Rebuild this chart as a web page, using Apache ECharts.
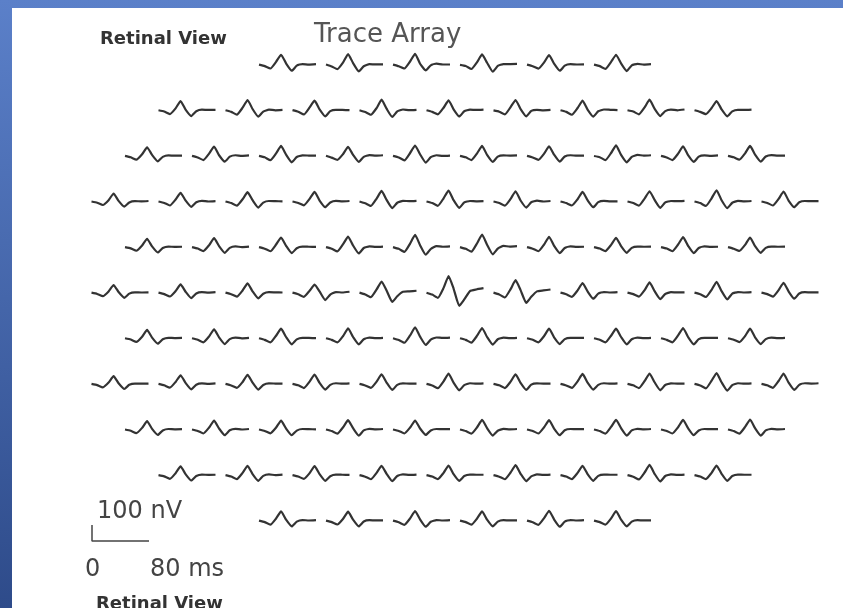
<!DOCTYPE html>
<html><head><meta charset="utf-8">
<script src="https://cdn.jsdelivr.net/npm/echarts@6/dist/echarts.min.js"></script>
<style>html,body{margin:0;padding:0;background:#fff}#c{width:843px;height:608px}</style>
</head><body><div id="c"></div>
<script>
// ---- data ----
const timesMs = [0, 8, 16, 24, 31, 38, 46, 53, 61, 70, 80];
const row1 = [
[2,-7,-22,20,64,10,-36,-4,6,2,5],[3,-9,-26,16,68,12,-40,-8,5,4,4],[2,-8,-22,22,70,8,-34,-2,8,3,3],
[1,-6,-25,18,66,14,-42,-6,6,6,7],[2,-8,-23,16,62,8,-36,-4,5,3,4],[2,-7,-24,20,64,10,-38,-2,7,2,5]];
const row2 = [
[2,-6,-22,14,60,6,-34,-4,6,4,5],[2,-8,-25,18,66,10,-38,-6,6,2,4],[3,-7,-24,20,62,8,-36,-3,5,4,3],
[2,-9,-26,16,68,12,-40,-5,7,3,5],[2,-8,-23,18,64,8,-37,-4,6,4,6],[1,-7,-24,22,66,10,-36,-2,5,2,4],
[2,-8,-26,16,62,6,-38,-4,7,5,3],[2,-6,-23,20,68,12,-34,-3,6,2,7],[2,-8,-22,16,60,8,-36,-5,5,4,6]];
const row3 = [
[2,-7,-22,12,56,8,-32,-4,5,3,4],[2,-8,-24,16,60,6,-34,-3,6,2,5],[2,-7,-25,18,64,10,-38,-5,5,4,3],
[3,-9,-23,14,58,8,-36,-4,7,3,6],[2,-8,-26,20,66,12,-40,-6,6,2,4],[2,-7,-24,18,64,8,-36,-3,5,4,5],
[2,-8,-23,16,62,10,-34,-2,6,3,4],[1,-6,-25,20,68,8,-38,-4,8,4,6],[2,-8,-24,16,62,6,-36,-3,5,2,5],
[2,-7,-22,18,64,10,-34,-2,7,3,4]];
const row4 = [
[2,-6,-20,10,52,6,-30,-4,4,3,5],[2,-7,-23,14,56,8,-32,-3,6,2,4],[2,-8,-24,16,60,10,-36,-5,5,4,3],
[2,-7,-22,18,62,8,-34,-4,6,3,5],[2,-9,-26,20,68,12,-40,-6,6,4,6],[2,-8,-25,22,70,10,-38,-4,5,3,4],
[2,-7,-24,18,66,8,-36,-3,7,2,5],[2,-8,-23,16,62,10,-34,-2,6,3,3],[2,-7,-24,20,66,12,-38,-4,5,4,6],
[2,-8,-26,22,72,10,-40,-6,6,3,5],[2,-7,-23,18,64,8,-34,-3,5,4,4]];
const row5 = [
[2,-6,-21,12,54,6,-32,-4,5,3,4],[2,-7,-23,14,58,8,-34,-3,6,2,5],[2,-8,-24,18,62,10,-36,-5,5,4,3],
[2,-8,-25,20,68,12,-38,-4,6,3,5],[2,-9,-28,24,78,14,-46,-10,8,4,6],[2,-9,-27,26,80,16,-44,-8,9,5,8],
[2,-8,-24,18,66,10,-36,-4,6,3,4],[2,-7,-23,16,60,8,-34,-3,5,4,5],[2,-7,-24,18,64,10,-36,-4,6,3,4],
[2,-8,-22,16,62,8,-34,-3,5,4,5]];
const row6 = [
[2,-6,-20,10,50,6,-30,-4,4,3,4],[2,-7,-22,12,54,8,-32,-3,5,2,5],[2,-8,-23,16,60,10,-34,-5,5,4,3],
[2,-8,-24,14,52,10,-44,-10,6,3,8],[2,-9,-26,22,72,16,-56,-20,8,10,14],[2,-10,-30,32,106,28,-80,-40,12,22,30],
[2,-9,-28,24,80,18,-62,-24,10,16,22],[2,-8,-24,16,62,10,-36,-4,6,3,5],[2,-7,-23,18,66,12,-38,-6,5,4,4],
[2,-8,-25,20,70,12,-40,-4,6,3,5],[2,-7,-23,18,64,10,-36,-3,5,4,4]];
const row7 = [
[2,-6,-21,12,54,6,-32,-4,5,3,4],[2,-7,-23,14,58,8,-34,-3,6,2,5],[2,-8,-24,18,62,10,-36,-5,5,4,3],
[2,-8,-24,16,64,10,-36,-4,6,3,5],[2,-9,-26,20,70,12,-40,-6,7,4,6],[2,-8,-25,18,66,10,-38,-4,6,3,5],
[2,-7,-23,16,62,8,-34,-3,5,4,4],[2,-7,-24,18,62,10,-36,-4,6,3,5],[2,-8,-23,20,66,10,-36,-3,5,4,4],
[2,-7,-22,16,62,8,-34,-3,6,3,5]];
const row8 = [
[2,-6,-20,10,50,6,-30,-4,4,3,4],[2,-7,-22,14,56,8,-32,-3,5,2,5],[2,-8,-23,14,58,10,-34,-5,5,4,3],
[2,-7,-24,16,60,8,-34,-4,6,3,5],[2,-8,-23,16,62,10,-36,-4,5,4,4],[2,-8,-25,18,66,10,-38,-6,6,3,5],
[2,-7,-24,16,62,8,-36,-3,5,4,4],[2,-8,-23,18,64,10,-34,-4,6,3,5],[2,-7,-24,20,66,12,-38,-5,5,4,4],
[2,-8,-26,22,70,12,-40,-6,6,3,5],[2,-7,-23,20,66,10,-36,-4,6,4,6]];
const row9 = [
[2,-6,-21,12,54,6,-32,-4,5,3,4],[2,-7,-23,14,58,8,-34,-3,6,2,5],[2,-7,-22,14,58,8,-34,-5,5,4,3],
[2,-8,-24,16,60,10,-36,-4,6,3,5],[2,-7,-23,14,58,8,-32,-4,5,4,4],[2,-8,-24,16,62,10,-36,-6,6,3,5],
[2,-7,-23,16,60,8,-34,-3,5,4,4],[2,-8,-24,18,62,10,-36,-4,6,3,5],[2,-7,-23,16,62,10,-34,-4,5,4,4],
[2,-8,-24,18,64,10,-36,-4,6,3,5]];
const row10 = [
[2,-6,-22,14,56,8,-32,-4,5,3,4],[2,-7,-23,16,60,8,-34,-3,6,2,5],[2,-7,-22,14,58,8,-34,-5,5,4,3],
[2,-8,-24,16,60,10,-36,-4,6,3,5],[2,-7,-23,16,62,8,-34,-4,5,4,4],[2,-8,-24,18,64,10,-36,-6,6,3,5],
[2,-7,-23,16,60,8,-34,-3,5,4,4],[2,-8,-25,18,66,10,-38,-4,6,3,5],[2,-7,-23,16,62,10,-34,-4,5,4,4]];
const row11 = [
[2,-7,-23,16,60,8,-34,-4,6,3,5],[2,-7,-22,14,58,8,-34,-3,5,4,4],[2,-8,-24,16,62,10,-36,-5,6,3,5],
[2,-7,-23,16,60,8,-34,-4,5,4,4],[2,-8,-24,18,64,10,-36,-4,6,3,5],[2,-7,-23,16,62,8,-34,-4,5,4,4]];
const rows = [row1,row2,row3,row4,row5,row6,row7,row8,row9,row10,row11];
const scaleBarNv = 100, scaleBarMs = 80;
const titleText = 'Trace Array', viewText = 'Retinal View';
const ampLabel = '100 nV', timeStartLabel = '0', timeEndLabel = '80 ms';

// ---- layout ----
const W = 843, H = 608, GL = 12, GT = 8;
const PX_PER_MS = 57/80, PX_PER_NV = 16/100;
const CENTER_X = 455, PITCH = 67, ROW0 = 65, ROW_GAP = 45.6;
const xOf = px => (px - GL) / PX_PER_MS;
const vOf = py => (H - py) / PX_PER_NV;
const traceStyle = {color:'#333333', width:2.2};

const series = [];
rows.forEach((row, r) => {
  const n = row.length;
  const v0 = vOf(ROW0 + r*ROW_GAP);
  row.forEach((vals, i) => {
    const cx = CENTER_X + (i - (n-1)/2) * PITCH;
    const x0 = xOf(cx) - scaleBarMs/2;
    series.push({type:'line', showSymbol:false, silent:true, smooth:0.15,
      lineStyle:traceStyle, data: timesMs.map((t,k)=>[x0+t, v0+vals[k]])});
  });
});
// scale bar
{
  const x0 = xOf(92), v0 = vOf(541);
  series.push({type:'line', showSymbol:false, silent:true,
    lineStyle:{color:'#444', width:1.5},
    data:[[x0, v0+scaleBarNv],[x0, v0],[x0+scaleBarMs, v0]]});
}

const chart = echarts.init(document.getElementById('c'), null, {renderer:'canvas'});
chart.setOption({
  animation:false,
  backgroundColor:{type:'linear',x:0,y:0,x2:0,y2:1,colorStops:[{offset:0,color:'#5b80c9'},{offset:1,color:'#2e4b8a'}]},
  grid:{left:GL, top:GT, right:0, bottom:0, show:true, backgroundColor:'#ffffff', borderWidth:0},
  xAxis:{type:'value', min:0, max:xOf(W), show:false},
  yAxis:{type:'value', min:0, max:vOf(GT), show:false},
  series,
  graphic:[
    {type:'text', left:100, top:30, style:{text:viewText, font:'bold 18px "DejaVu Sans"', fill:'#333'}},
    {type:'text', left:314, top:22, style:{text:titleText, font:'26px "DejaVu Sans"', fill:'#555'}},
    {type:'text', left:97, top:500, style:{text:ampLabel, font:'24px "DejaVu Sans"', fill:'#444'}},
    {type:'text', left:85, top:558, style:{text:timeStartLabel, font:'24px "DejaVu Sans"', fill:'#444'}},
    {type:'text', left:150, top:558, style:{text:timeEndLabel, font:'24px "DejaVu Sans"', fill:'#444'}},
    {type:'text', left:96, top:595, style:{text:viewText, font:'bold 18px "DejaVu Sans"', fill:'#333'}}
  ]
});
</script></body></html>
